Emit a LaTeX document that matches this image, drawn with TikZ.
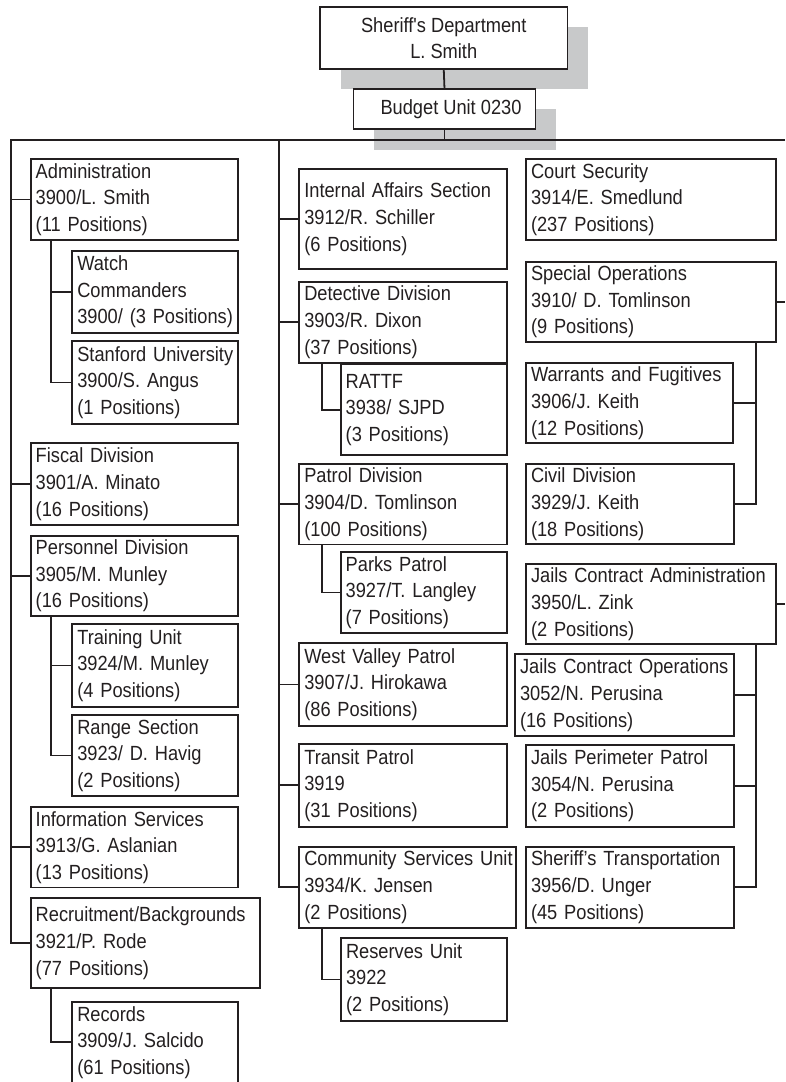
\documentclass[tikz,border=0pt]{standalone}
\usepackage{fontspec}
\newfontfamily\chartfont[FakeStretch=0.89]{Liberation Sans}
\usetikzlibrary{backgrounds}
\definecolor{ink}{HTML}{231F20}
\definecolor{shadowgray}{HTML}{C8C9CA}

\tikzset{
  unit/.style={draw=ink, fill=white, line width=1.8pt, rectangle, outer sep=0pt,
    inner xsep=5pt, inner ysep=0pt, align=left, text=ink,
    font=\chartfont\fontsize{20.5}{26.7}\selectfont},
  headunit/.style={unit, align=center},
  link/.style={draw=ink, line width=1.8pt},
  shade/.style={fill=shadowgray}
}

% a unit box given by its corners (x1,y1) and (x2,y2), y growing downwards;
% the lines are set in a one-column tabular so that they never wrap
\newcommand\orgunit[6]{%
  \pgfmathsetmacro\unitw{#4-#2}%
  \pgfmathsetmacro\unith{#5-#3}%
  \pgfmathsetmacro\unittw{#4-#2-10}%
  \node[unit, anchor=north west, minimum width=\unitw pt, minimum height=\unith pt,
        text width=\unittw pt] (#1) at (#2,#3)
        {\begin{tabular}{@{}l@{}}#6\end{tabular}};}

\begin{document}
\begin{tikzpicture}[x=1pt,y=-1pt]
\useasboundingbox (0,0) rectangle (785,1082);

% department head and budget unit
\node[headunit, anchor=north west, minimum width=247.5pt, minimum height=61.7pt]
  (sheriff) at (320,7.3) {Sheriff's Department\\L. Smith};
\node[headunit, anchor=north west, minimum width=182pt, minimum height=39.4pt]
  (budget) at (353.5,89.3) {\hspace*{13pt}Budget Unit 0230};

\begin{scope}[on background layer]
  \fill[shade] ([shift={(20.5,20)}]sheriff.north west) rectangle ([shift={(20.5,20)}]sheriff.south east);
  \fill[shade] ([shift={(20.5,20)}]budget.north west) rectangle ([shift={(20.5,21)}]budget.south east);
\end{scope}

% left column
\orgunit{admin}{30.7}{159}{237.7}{240}{Administration\\3900/L. Smith\\(11 Positions)}
\orgunit{watch}{72.3}{251}{238.3}{332.7}{Watch\\Commanders\\3900/ (3 Positions)}
\orgunit{stanford}{72.3}{341}{238.3}{424}{Stanford University\\3900/S. Angus\\(1 Positions)}
\orgunit{fiscal}{30.7}{443.3}{238.3}{525}{Fiscal Division\\3901/A. Minato\\(16 Positions)}
\orgunit{personnel}{30.7}{535.7}{238.3}{614}{Personnel Division\\3905/M. Munley\\(16 Positions)}
\orgunit{training}{72.3}{624.3}{238.3}{706.7}{Training Unit\\3924/M. Munley\\(4 Positions)}
\orgunit{range}{72.3}{715}{238.3}{796}{Range Section\\3923/ D. Havig\\(2 Positions)}
\orgunit{info}{30.7}{807.3}{238.3}{887.3}{Information Services\\3913/G. Aslanian\\(13 Positions)}
\orgunit{recruit}{30.7}{898.3}{260}{988.3}{Recruitment/Backgrounds\\3921/P. Rode\\(77 Positions)}
\orgunit{records}{72.3}{1002.3}{238.3}{1079.8}{Records\\3909/J. Salcido\\(61 Positions)}

% middle column
\orgunit{internal}{299.3}{169.3}{507.3}{269.3}{Internal Affairs Section\\3912/R. Schiller\\(6 Positions)}
\orgunit{detective}{299.3}{281.7}{507.3}{362.7}{Detective Division\\3903/R. Dixon\\(37 Positions)}
\orgunit{rattf}{340.7}{364.3}{507.3}{455}{RATTF\\3938/ SJPD\\(3 Positions)}
\orgunit{patrol}{299.3}{464.3}{507.3}{544.3}{Patrol Division\\3904/D. Tomlinson\\(100 Positions)}
\orgunit{parks}{340.7}{551.7}{507.3}{633.3}{Parks Patrol\\3927/T. Langley\\(7 Positions)}
\orgunit{westvalley}{299.3}{643.3}{507.3}{725.7}{West Valley Patrol\\3907/J. Hirokawa\\(86 Positions)}
\orgunit{transit}{299.3}{744}{507}{826.7}{Transit Patrol\\3919\\(31 Positions)}
\orgunit{community}{299.3}{846.7}{516}{927.7}{Community Services Unit\\3934/K. Jensen\\(2 Positions)}
\orgunit{reserves}{341}{938.3}{506.7}{1020.7}{Reserves Unit\\3922\\(2 Positions)}

% right column
\orgunit{court}{526}{159}{776}{240}{Court Security\\3914/E. Smedlund\\(237 Positions)}
\orgunit{specops}{526}{261.7}{776}{341.7}{Special Operations\\3910/ D. Tomlinson\\(9 Positions)}
\orgunit{warrants}{526}{362.7}{733.3}{443.3}{Warrants and Fugitives\\3906/J. Keith\\(12 Positions)}
\orgunit{civil}{526}{464}{734}{544.3}{Civil Division\\3929/J. Keith\\(18 Positions)}
\orgunit{jailsadmin}{526}{564}{776}{643.3}{Jails Contract Administration\\3950/L. Zink\\(2 Positions)}
\orgunit{jailsops}{515}{654.3}{734}{736}{Jails Contract Operations\\3052/N. Perusina\\(16 Positions)}
\orgunit{perimeter}{526}{745}{734}{826.7}{Jails Perimeter Patrol\\3054/N. Perusina\\(2 Positions)}
\orgunit{transport}{526}{846.7}{734}{927.7}{Sheriff’s Transportation\\3956/D. Unger\\(45 Positions)}

% trunk coordinates
\coordinate (ltrunk) at (11,140);
\coordinate (mtrunk) at (279.3,140);
\coordinate (rend) at (785,140);

% head connectors
\draw[link] (sheriff.south) -- (budget.north);
\draw[link] (budget.south) -- (budget.south |- rend);

% main horizontal and left trunk
\draw[link] (rend) -- (ltrunk) |- (recruit.west);
\foreach \u in {admin,fiscal,personnel,info}
  \draw[link] (ltrunk |- \u.west) -- (\u.west);

% middle trunk
\draw[link] (mtrunk) |- (community.west);
\foreach \u in {internal,detective,patrol,westvalley,transit}
  \draw[link] (mtrunk |- \u.west) -- (\u.west);

% sub-units, left column
\coordinate (adminc) at ([xshift=20pt]admin.south west);
\draw[link] (adminc) |- (stanford.west);
\draw[link] (adminc |- watch.west) -- (watch.west);
\coordinate (personnelc) at ([xshift=20pt]personnel.south west);
\draw[link] (personnelc) |- (range.west);
\draw[link] (personnelc |- training.west) -- (training.west);
\coordinate (recruitc) at ([xshift=20pt]recruit.south west);
\draw[link] (recruitc) |- (records.west);

% sub-units, middle column
\coordinate (detectivec) at ([xshift=22.4pt]detective.south west);
\draw[link] (detectivec) |- (rattf.west);
\coordinate (patrolc) at ([xshift=22.4pt]patrol.south west);
\draw[link] (patrolc) |- (parks.west);
\coordinate (communityc) at ([xshift=22.4pt]community.south west);
\draw[link] (communityc) |- (reserves.west);

% sub-units, right column
\coordinate (specopsc) at ([xshift=-20pt]specops.south east);
\draw[link] (specopsc) |- (civil.east);
\draw[link] (specopsc |- warrants.east) -- (warrants.east);
\coordinate (jailsc) at ([xshift=-20.3pt]jailsadmin.south east);
\draw[link] (jailsc) |- (transport.east);
\foreach \u in {jailsops,perimeter}
  \draw[link] (jailsc |- \u.east) -- (\u.east);

% stubs towards the right edge
\draw[link] (specops.east) -- (specops.east -| rend);
\draw[link] (jailsadmin.east) -- (jailsadmin.east -| rend);
\end{tikzpicture}
\end{document}
